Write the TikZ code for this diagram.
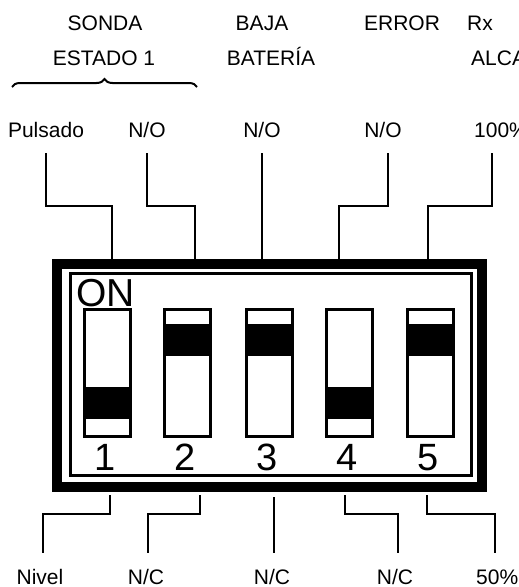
\documentclass[tikz,border=0pt]{standalone}
\usepackage{fontspec}
\setmainfont{Liberation Sans}
\usetikzlibrary{decorations.pathreplacing}
\begin{document}
\begin{tikzpicture}[x=1pt,y=-1pt,
  lbl/.style={font=\fontsize{21}{24}\selectfont, inner sep=0pt, anchor=base},
  lblw/.style={lbl, anchor=base west},
  big/.style={font=\fontsize{38}{40}\selectfont, inner sep=0pt, anchor=base},
  wire/.style={line width=2pt, line join=miter},
  swbody/.style={line width=3pt},
  slider/.style={fill=black}]
\useasboundingbox (0,0) rectangle (519,587);
\clip (0,0) rectangle (519,587);

% top titles
\node[lbl] (sonda) at (105,30) {SONDA};
\node[lbl] (baja) at (262,30) {BAJA};
\node[lbl] (error) at (402,30) {ERROR};
\node[lblw] (rx) at (467,30) {Rx};
\node[lbl] (estado) at (104,65) {ESTADO 1};
\node[lbl] (bateria) at (271,65) {BATERÍA};
\node[lblw] (alcance) at (471,65) {ALCANCE};

% brace
\draw[line width=2pt, decorate, decoration={brace, amplitude=8pt}] (12,87) -- (197,87);

% upper labels
\node[lbl] (pulsado) at (46,137) {Pulsado};
\node[lbl] (no2) at (147,137) {N/O};
\node[lbl] (no3) at (262,137) {N/O};
\node[lbl] (no4) at (383,137) {N/O};
\node[lblw] (p100) at (474,137) {100\%};

% lower labels
\node[lbl] (nivel) at (40,584) {Nivel};
\node[lbl] (nc2) at (146,584) {N/C};
\node[lbl] (nc3) at (272,584) {N/C};
\node[lbl] (nc4) at (395,584) {N/C};
\node[lblw] (p50) at (476,584) {50\%};

% frame
\draw[line width=10pt] (57,264) rectangle (482,486.5);
\draw[line width=3pt] (70,273) rectangle (471.5,475);
\node[big, font=\fontsize{39}{40}\selectfont, anchor=base west] (on) at (76,306) {ON};

% switches
\foreach \x/\num/\nx in {107.5/1/105, 187.5/2/185, 269/3/267, 349.5/4/347, 430.5/5/428}{
  \draw[swbody] (\x-23,309.5) rectangle (\x+23,436.5);
  \node[big] (n\num) at (\nx,470) {\num};
}
\fill[slider] (83,387) rectangle (132,419);
\fill[slider] (163,324) rectangle (212,356);
\fill[slider] (244.5,324) rectangle (293.5,356);
\fill[slider] (325,387) rectangle (374,419);
\fill[slider] (406,324) rectangle (455,356);

% top connectors
\coordinate (ut1) at (46,153);  \coordinate (ub1) at (112,260);
\coordinate (ut2) at (147,153); \coordinate (ub2) at (195,260);
\coordinate (ut3) at (262,153); \coordinate (ub3) at (262,260);
\coordinate (ut4) at (388,153); \coordinate (ub4) at (339,260);
\coordinate (ut5) at (492,153); \coordinate (ub5) at (428,260);
\draw[wire] (ut1) -- ++(0,53) -| (ub1);
\draw[wire] (ut2) -- ++(0,53) -| (ub2);
\draw[wire] (ut3) -- (ub3);
\draw[wire] (ut4) -- ++(0,53) -| (ub4);
\draw[wire] (ut5) -- ++(0,53) -| (ub5);

% bottom connectors
\coordinate (lb1) at (110,495); \coordinate (le1) at (43,553);
\coordinate (lb2) at (200,495); \coordinate (le2) at (148,553);
\coordinate (lb3) at (274,497); \coordinate (le3) at (274,553);
\coordinate (lb4) at (345,495); \coordinate (le4) at (398,553);
\coordinate (lb5) at (427,495); \coordinate (le5) at (495,553);
\draw[wire] (lb1) -- ++(0,19) -| (le1);
\draw[wire] (lb2) -- ++(0,19) -| (le2);
\draw[wire] (lb3) -- (le3);
\draw[wire] (lb4) -- ++(0,19) -| (le4);
\draw[wire] (lb5) -- ++(0,19) -| (le5);
\end{tikzpicture}
\end{document}
